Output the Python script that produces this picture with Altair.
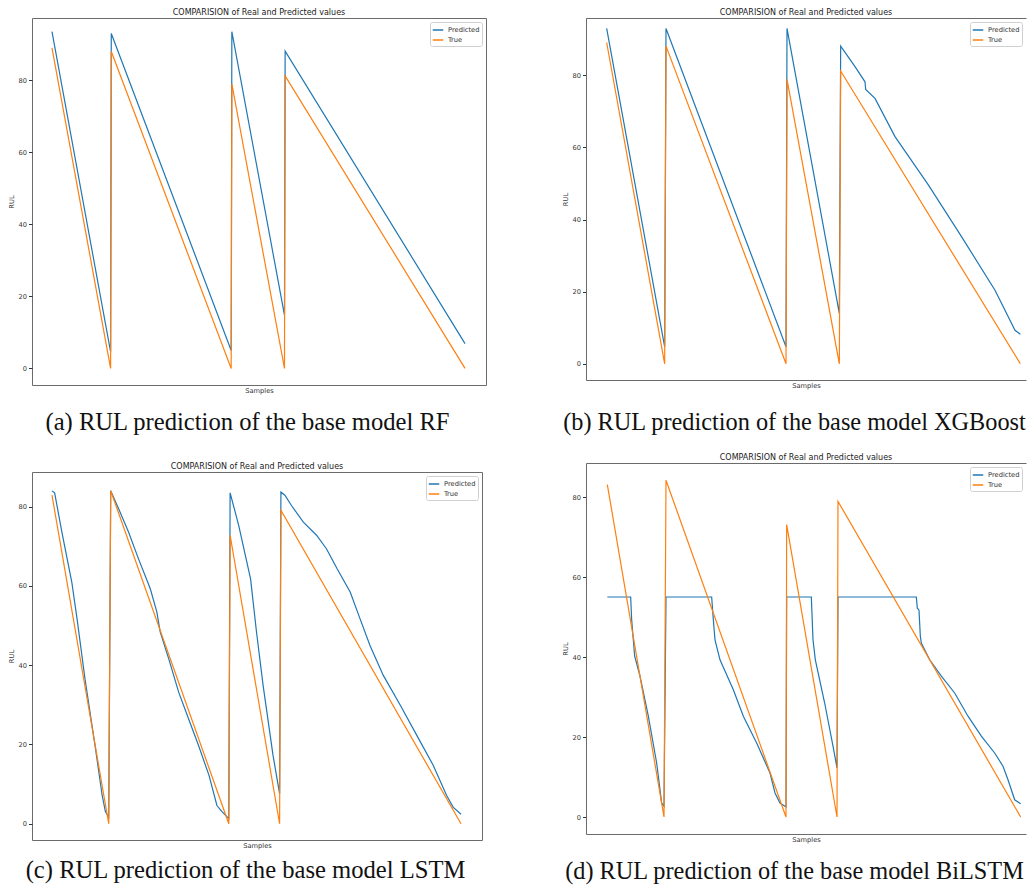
import altair as alt
import pandas as pd

SERIES = ["Predicted", "True"]
COLORS = ["#1f77b4", "#ff7f0e"]
PANEL_TITLE = "COMPARISION of Real and Predicted values"
CAPTIONS = [
    "(a) RUL prediction of the base model RF",
    "(b) RUL prediction of the base model XGBoost",
    "(c) RUL prediction of the base model LSTM",
    "(d) RUL prediction of the base model BiLSTM",
]
Y_TICKS = [0, 20, 40, 60, 80]

# (a) RF
A_PRED_X = [0, 88, 89, 269, 270, 349, 350, 620]
A_PRED = [93.5, 4.6, 93.0, 5.0, 93.5, 14.8, 88.1, 6.9]
A_TRUE_X = [0, 88, 89, 269, 270, 349, 350, 620]
A_TRUE = [89.0, 0.0, 88.0, 0.0, 79.0, 0.0, 81.2, 0.0]

# (b) XGBoost
B_PRED_X = [0, 87, 89, 269, 270.5, 349,
            351, 372.5, 387.5, 388.5, 402.5, 432.5, 482.5, 532.5, 582.5, 612.5, 620.5]
B_PRED = [93.0, 4.7, 93.0, 4.7, 93.0, 14.0,
          88.1, 82.4, 78.2, 76.1, 73.6, 63.0, 49.6, 35.2, 20.4, 9.3, 8.2]
B_TRUE_X = [0, 87, 89, 269, 270.5, 349, 351, 620.5]
B_TRUE = [89.1, 0.0, 88.1, 0.0, 78.9, 0.0, 81.2, 0.0]

# (c) LSTM
C_PRED_X = [0, 4, 15, 30, 38, 50, 66, 76, 81, 86,
            89, 91, 101, 116, 131, 149, 159, 164, 177, 192, 207, 222, 238, 250, 258, 268,
            270, 283, 301, 310, 320, 335, 345,
            347, 353, 363, 381, 401, 416, 432, 452, 467, 482, 502, 528, 553, 578, 598, 608, 620]
C_PRED = [84.0, 83.5, 73.6, 61.0, 51.7, 36.6, 18.9, 7.2, 3.0, 1.7,
          84.0, 83.3, 79.5, 73.6, 66.9, 59.3, 53.4, 48.4, 41.6, 33.2, 26.5, 19.8, 12.2, 4.6, 3.0, 1.3,
          83.5, 75.3, 61.8, 48.4, 34.9, 17.3, 7.6,
          83.7, 82.9, 80.3, 76.1, 72.8, 69.4, 64.4, 58.5, 51.7, 45.0, 37.5, 29.9, 22.3, 14.7, 7.2, 4.2, 2.4]
C_TRUE_X = [0, 86, 89, 268, 270, 345, 347, 620]
C_TRUE = [82.9, 0.0, 84.0, 0.0, 72.8, 0.0, 79.1, 0.0]

# (d) BiLSTM
D_PRED_X = [0, 35, 36.5, 41, 49, 61.5, 74, 81.5, 85,
            88, 156.5, 159, 161.5, 169, 189, 204, 224, 244, 251.5, 259, 268,
            269, 306, 308.5, 312, 326, 338.5, 344.5,
            346, 463.5, 465, 467.5, 469.5, 471, 476, 483.5, 501, 521, 541, 561, 581, 593.5, 601, 611, 620]
D_PRED = [55, 55, 49.3, 40.2, 35.2, 25.2, 13.5, 3.5, 2.7,
          55, 55, 49.3, 44.3, 39.3, 31.8, 25.2, 18.5, 11.0, 6.0, 3.5, 2.5,
          55, 55, 44.3, 39.3, 28.5, 17.7, 12.3,
          55, 55, 52.2, 51.7, 45.2, 43.5, 41.8, 39.3, 35.2, 31.0, 25.2, 20.2, 16.0, 12.7, 9.3, 4.3, 3.3]
D_TRUE_X = [0, 85, 88, 268, 269, 344.5, 346, 620]
D_TRUE = [83.1, 0.0, 84.2, 0.0, 73.1, 0.0, 78.9, 0.0]

FONT = "DejaVu Sans"
FRAME = "#6b6b6b"
TXT = "#333333"


def make_panel(px, py, tx, ty, xdom, ydom, w, h, open_right):
    pred = pd.DataFrame({"Samples": px, "RUL": py, "series": "Predicted"})
    true = pd.DataFrame({"Samples": tx, "RUL": ty, "series": "True"})
    xs = alt.Scale(domain=xdom, nice=False, zero=False)
    ys = alt.Scale(domain=ydom, nice=False, zero=False)
    cs = alt.Scale(domain=SERIES, range=COLORS)
    leg = alt.Legend(title=None, orient="top-right", offset=4, padding=2,
                     strokeColor="#d0d0d0", fillColor="white", cornerRadius=2,
                     symbolType="stroke", symbolStrokeWidth=1.5, symbolSize=110,
                     labelFont=FONT, labelFontSize=6.7, labelColor=TXT,
                     labelOffset=4, rowPadding=0)
    x_bottom = alt.Axis(title="Samples", labels=False, ticks=False, grid=False,
                        domain=open_right, domainColor=FRAME,
                        titleFont=FONT, titleFontSize=6.7, titleFontWeight="normal",
                        titleColor=TXT, titlePadding=2)
    y_axis = alt.Axis(values=Y_TICKS, title="RUL", grid=False,
                      domain=open_right, domainColor=FRAME,
                      tickSize=3.5, tickColor=TXT, labelFont=FONT, labelFontSize=6.7,
                      labelColor=TXT, labelPadding=2, titleFont=FONT, titleFontSize=6.7,
                      titleFontWeight="normal", titleColor=TXT, titlePadding=3)
    color = alt.Color("series:N", scale=cs, legend=leg)
    yenc = alt.Y("RUL:Q", scale=ys, axis=y_axis)
    l1 = alt.Chart(pred).mark_line(strokeWidth=1.2).encode(
        x=alt.X("Samples:Q", scale=xs, axis=x_bottom), y=yenc, color=color)
    if open_right:
        x_top = alt.Axis(orient="top", title="", labels=False, ticks=False, grid=False,
                         domain=True, domainColor=FRAME)
        l2 = alt.Chart(true).mark_line(strokeWidth=1.2).encode(
            x=alt.X("Samples:Q", scale=xs, axis=x_top), y=yenc, color=color)
        layer = alt.layer(l1, l2).resolve_axis(x="independent")
        view = alt.ViewBackground(stroke="transparent")
    else:
        l2 = alt.Chart(true).mark_line(strokeWidth=1.2).encode(
            x=alt.X("Samples:Q", scale=xs, axis=x_bottom), y=yenc, color=color)
        layer = alt.layer(l1, l2)
        view = alt.ViewBackground(stroke=FRAME, strokeWidth=1)
    return layer.properties(
        width=w, height=h, view=view,
        title=alt.TitleParams(PANEL_TITLE, font=FONT, fontSize=8, fontWeight="normal",
                              color="#222222", offset=1, anchor="middle"),
    )


def wrap(panel, caption, offset, size):
    return alt.vconcat(
        panel,
        title=alt.TitleParams(caption, orient="bottom", anchor="middle", frame="bounds",
                              font="Liberation Serif", fontSize=size, fontWeight="normal",
                              color="#111111", offset=offset),
    ).resolve_scale(color="independent")


pa = make_panel(A_PRED_X, A_PRED, A_TRUE_X, A_TRUE, [-30, 651.5], [-4.6, 97.3], 454, 367, False)
pb = make_panel(B_PRED_X, B_PRED, B_TRUE_X, B_TRUE, [-31, 629], [-4.5, 95.9], 440, 362, True)
pc = make_panel(C_PRED_X, C_PRED, C_TRUE_X, C_TRUE, [-30.3, 651.8], [-4.1, 88.76], 450, 368, False)
pd_ = make_panel(D_PRED_X, D_PRED, D_TRUE_X, D_TRUE, [-32, 628], [-4.25, 88.5], 440, 371, True)

left = alt.vconcat(wrap(pa, CAPTIONS[0], 17, 24.6), wrap(pc, CAPTIONS[2], 10, 24.6),
                   spacing=27).resolve_scale(color="independent")
right = alt.vconcat(wrap(pb, CAPTIONS[1], 22, 24.3), wrap(pd_, CAPTIONS[3], 17, 24.3),
                    spacing=17).resolve_scale(color="independent")

chart = alt.hconcat(left, right, spacing=75).resolve_scale(color="independent").properties(
    padding=0, background="white"
).configure_view(stroke="transparent")

chart.save("out.html", embed_options={"renderer": "svg", "actions": False})
